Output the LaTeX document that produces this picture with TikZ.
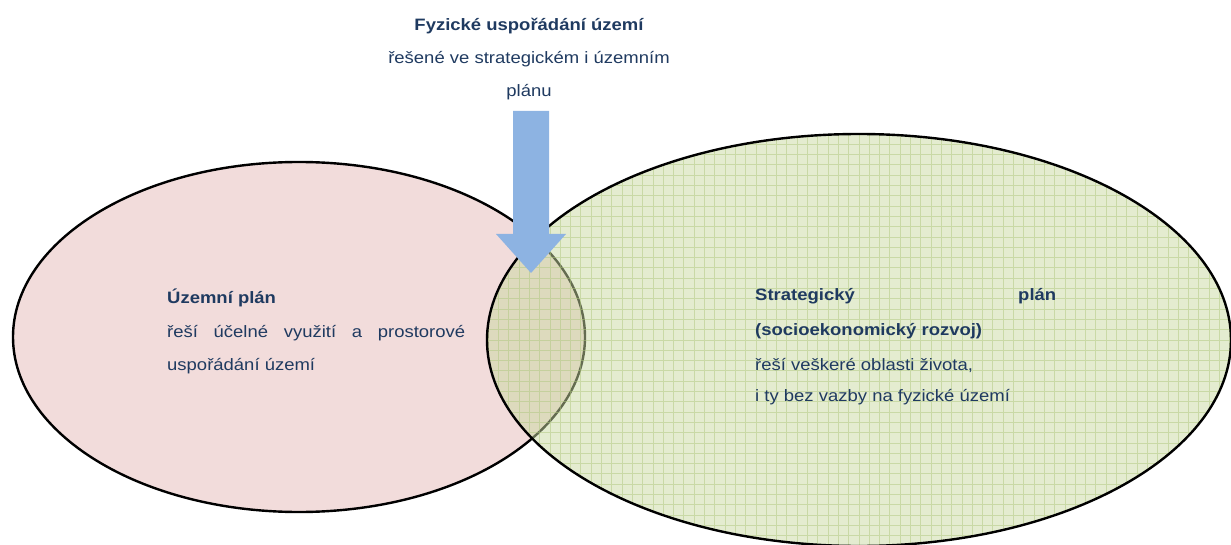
\documentclass[tikz,border=0pt]{standalone}
\usepackage{fontspec}
\setmainfont{Liberation Sans}[FakeStretch=1.12]
\usetikzlibrary{shapes.geometric}
\definecolor{txtblue}{HTML}{1F3A60}
\definecolor{pinkfill}{HTML}{F2DCDB}
\definecolor{greenfill}{HTML}{C9D9A1}
\definecolor{gridgreen}{HTML}{AFC77E}
\definecolor{arrowblue}{HTML}{8DB3E2}
\tikzset{
  lbl/.style={text=txtblue, inner sep=0pt, font=\fontsize{16.5}{33}\selectfont},
  lblb/.style={lbl, font=\fontsize{16.5}{33}\selectfont\bfseries},
  venn/.style={ellipse, draw=black, line width=2.4pt, inner sep=0pt},
}
\begin{document}
\begin{tikzpicture}[x=1pt,y=-1pt]
\useasboundingbox (0,0) rectangle (1231,545);
\clip (0,0) rectangle (1231,545);
% left ellipse (territorial plan)
\node[venn, fill=pinkfill, minimum width=572pt, minimum height=350pt] (up) at (299,337) {};
% right ellipse (strategic plan), semi-transparent with grid
\node[venn, fill=greenfill, fill opacity=0.5, draw opacity=1,
  minimum width=744pt, minimum height=412pt,
  path picture={\draw[gridgreen, line width=0.9pt, opacity=0.5, step=10.3pt]
     (path picture bounding box.south west) grid (path picture bounding box.north east);}
  ] (sp) at (859,340) {};
% arrow
\fill[arrowblue] (513,111) -- (549,111) -- (549,234) -- (566,234) -- (531,273) -- (496,234) -- (513,234) -- cycle;
% top text
\node[lblb, anchor=base] (t1) at (529,31) {Fyzické uspořádání území};
\node[lbl, anchor=base] (t2) at (529,64) {řešené ve strategickém i územním};
\node[lbl, anchor=base] (t3) at (529,97) {plánu};
% left text
\node[lblb, anchor=base west] (l1) at (167,303) {Územní plán};
\node[lbl, anchor=base west] (l2) at (167,337) {\makebox[298pt][s]{řeší účelné využití a prostorové}};
\node[lbl, anchor=base west] (l3) at (167,370) {uspořádání území};
% right text
\node[lblb, anchor=base west] (r1) at (755,301) {\makebox[301pt][s]{Strategický plán}};
\node[lblb, anchor=base west] (r2) at (755,335) {(socioekonomický rozvoj)};
\node[lbl, anchor=base west] (r3) at (755,370) {řeší veškeré oblasti života,};
\node[lbl, anchor=base west] (r4) at (755,401) {i ty bez vazby na fyzické území};
\end{tikzpicture}
\end{document}
